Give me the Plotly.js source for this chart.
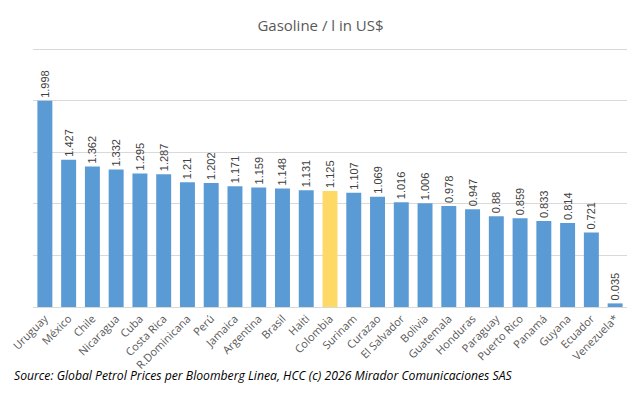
<!DOCTYPE html>
<html>
<head>
<meta charset="utf-8">
<script src="https://cdn.plot.ly/plotly-3.0.1.min.js"></script>
<style>html,body{margin:0;padding:0;background:#fff;}#chart{width:641px;height:396px;}</style>
</head>
<body>
<div id="chart"></div>
<script>
const countries = ["Uruguay","México","Chile","Nicaragua","Cuba","Costa Rica","R.Dominicana","Perú","Jamaica","Argentina","Brasil","Haiti","Colombia","Surinam","Curazao","El Salvador","Bolivia","Guatemala","Honduras","Paraguay","Puerto Rico","Panamá","Guyana","Ecuador","Venezuela*"];
const prices = [1.998,1.427,1.362,1.332,1.295,1.287,1.21,1.202,1.171,1.159,1.148,1.131,1.125,1.107,1.069,1.016,1.006,0.978,0.947,0.88,0.859,0.833,0.814,0.721,0.035];
const priceLabels = ["1.998","1.427","1.362","1.332","1.295","1.287","1.21","1.202","1.171","1.159","1.148","1.131","1.125","1.107","1.069","1.016","1.006","0.978","0.947","0.88","0.859","0.833","0.814","0.721","0.035"];
const highlight = "Colombia";

const colors = countries.map(c => c === highlight ? "#FFD966" : "#5B9BD5");

const trace = {
  type: "bar",
  x: countries,
  y: prices,
  text: priceLabels,
  textposition: "outside",
  textangle: -90,
  constraintext: "none",
  cliponaxis: false,
  textfont: {family: "Liberation Sans, Arial, sans-serif", size: 11, color: "#404040"},
  marker: {color: colors},
  hoverinfo: "x+y"
};

const layout = {
  width: 641, height: 396,
  margin: {l: 33, r: 14, t: 47, b: 89},
  paper_bgcolor: "#fff", plot_bgcolor: "#fff",
  bargap: 0.37,
  showlegend: false,
  title: {text: "Gasoline / l in US$", x: 0.5, xanchor: "center", y: 0.935, yanchor: "middle",
          font: {family: "Open Sans, Lato, sans-serif", size: 15, color: "#595959"}},
  xaxis: {
    tickangle: -45,
    tickfont: {family: "Open Sans, Lato, sans-serif", size: 11, color: "#595959"},
    showline: true, linecolor: "#d9d9d9", linewidth: 1,
    ticks: "", showgrid: false, fixedrange: true
  },
  yaxis: {
    range: [0, 2.52], tick0: 0, dtick: 0.5, showticklabels: false,
    showgrid: true, gridcolor: "#d9d9d9", gridwidth: 1,
    zeroline: false, ticks: "", fixedrange: true
  },
  annotations: [{
    text: "<i>Source: Global Petrol Prices per Bloomberg Linea, HCC (c) 2026 Mirador Comunicaciones SAS</i>",
    xref: "paper", yref: "paper", x: -0.035, y: -0.263, xanchor: "left", yanchor: "middle",
    showarrow: false,
    font: {family: "Open Sans, Lato, sans-serif", size: 12.2, color: "#000"}
  }]
};

Plotly.newPlot("chart", [trace], layout, {displayModeBar: false, staticPlot: true});
</script>
</body>
</html>
